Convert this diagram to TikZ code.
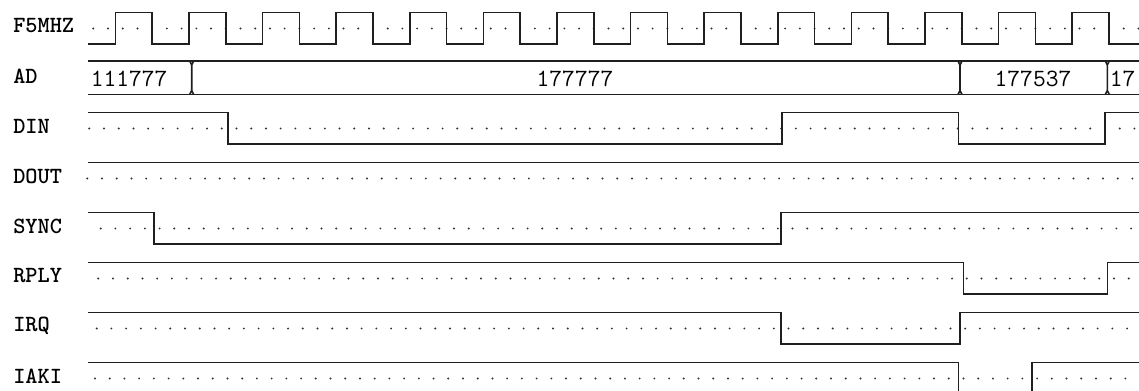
\documentclass[tikz,border=0pt]{standalone}
\usepackage{fontspec}

\begin{document}
\begin{tikzpicture}[x=0.75pt,y=-0.75pt,
  wave/.style={line width=1.2pt,color=black!88},
  gridpt/.style={fill=black!80},
  signame/.style={anchor=west,inner sep=0pt,font=\ttfamily\bfseries\fontsize{17.4}{18}\selectfont},
  busval/.style={inner sep=0pt,font=\ttfamily\fontsize{18.6}{19}\selectfont}]
  \useasboundingbox (0,0) rectangle (1139,390);
  \clip (0,0) rectangle (1139,390);

  % signal names
  \foreach \name [count=\r from 0] in {F5MHZ,AD,DIN,DOUT,SYNC,RPLY,IRQ,IAKI}
    \node[signame] (lbl-\name) at (13,{26+50*\r}) {\name};

  % dotted mid lines (row/first dot)
  \foreach \r/\o in {0/93.3,2/89.3,3/87.3,4/100.7,5/98.3,6/96.7,7/95}
    \foreach \k in {0,...,71}
      \fill[gridpt] ({\o+14.72*\k},{28.5+50*\r}) circle (0.8pt);

  % F5MHZ clock
  \draw[wave] (88,44) \foreach \k in {0,...,13} {
      -- ({115.4+73.6*\k},44) -- ++(0,-31.5) -- ++(36.8,0) -- ++(0,31.5)}
    -- (1139,44);

  % AD bus
  \draw[wave] (88,61) -- (1139,61);
  \draw[wave] (88,94.5) -- (1139,94.5);
  \foreach \x in {191.7,960,1107.3}
    \draw[wave] (\x-2,61) -- (\x,65) -- (\x,90.5) -- (\x-2,94.5)
                (\x+2,61) -- (\x,65) (\x,90.5) -- (\x+2,94.5);
  \node[busval,anchor=west] (ad-a) at (90.5,78.5) {111777};
  \node[busval] (ad-b) at (575,78.5) {177777};
  \node[busval] (ad-c) at (1033,78.5) {177537};
  \node[busval,anchor=west] (ad-d) at (1109.5,78.5) {17};

  % DIN
  \draw[wave] (88,112.5) -| (227.7,144) -| (782,112.5) -| (958.3,144) -| (1105,112.5) -- (1139,112.5);
  % DOUT
  \draw[wave] (88,162.5) -- (1139,162.5);
  % SYNC
  \draw[wave] (88,212.5) -| (154,244) -| (781,212.5) -- (1139,212.5);
  % RPLY
  \draw[wave] (88,262.5) -| (963.3,294) -| (1107.3,262.5) -- (1139,262.5);
  % IRQ
  \draw[wave] (88,312.5) -| (781,344) -| (960,312.5) -- (1139,312.5);
  % IAKI
  \draw[wave] (88,362.5) -| (958.3,394) -| (1031.7,362.5) -- (1139,362.5);
\end{tikzpicture}
\end{document}
